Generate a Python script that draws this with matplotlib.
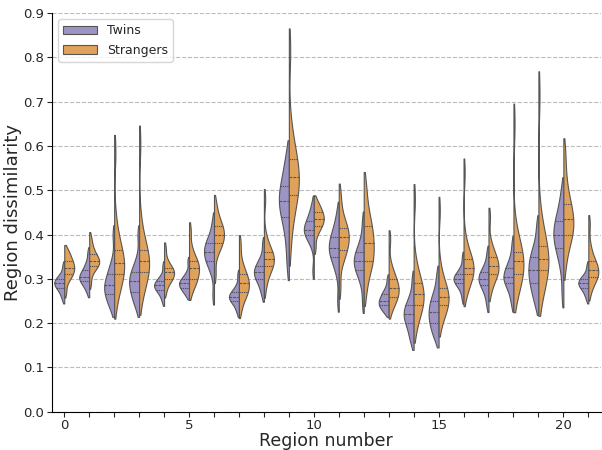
import matplotlib
matplotlib.use("Agg")
import matplotlib.pyplot as plt
import numpy as np
import pandas as pd
import seaborn as sns

regions = list(range(22))
groups = ["Twins", "Strangers"]

# per-region dissimilarity samples (13 values each)
twins = [
    [0.254, 0.266, 0.274, 0.28, 0.284, 0.287, 0.29, 0.293, 0.297, 0.30, 0.305, 0.312, 0.33],
    [0.27, 0.282, 0.29, 0.295, 0.299, 0.302, 0.305, 0.309, 0.314, 0.32, 0.328, 0.338, 0.36],
    [0.235, 0.245, 0.257, 0.265, 0.273, 0.279, 0.285, 0.292, 0.30, 0.31, 0.322, 0.34, 0.40],
    [0.235, 0.25, 0.262, 0.27, 0.279, 0.287, 0.295, 0.302, 0.308, 0.315, 0.327, 0.345, 0.40],
    [0.249, 0.262, 0.27, 0.275, 0.279, 0.282, 0.285, 0.288, 0.291, 0.295, 0.30, 0.308, 0.33],
    [0.263, 0.27, 0.276, 0.28, 0.284, 0.287, 0.29, 0.293, 0.296, 0.30, 0.306, 0.315, 0.34],
    [0.262, 0.315, 0.33, 0.34, 0.347, 0.354, 0.36, 0.366, 0.373, 0.38, 0.388, 0.40, 0.43],
    [0.224, 0.237, 0.245, 0.25, 0.254, 0.257, 0.26, 0.263, 0.266, 0.27, 0.276, 0.286, 0.31],
    [0.263, 0.28, 0.292, 0.30, 0.305, 0.31, 0.315, 0.32, 0.325, 0.33, 0.338, 0.35, 0.38],
    [0.33, 0.38, 0.415, 0.44, 0.452, 0.464, 0.475, 0.487, 0.498, 0.51, 0.528, 0.55, 0.58],
    [0.318, 0.375, 0.39, 0.40, 0.403, 0.407, 0.41, 0.416, 0.423, 0.43, 0.438, 0.45, 0.47],
    [0.25, 0.315, 0.335, 0.35, 0.357, 0.363, 0.37, 0.378, 0.386, 0.395, 0.407, 0.42, 0.45],
    [0.245, 0.29, 0.308, 0.32, 0.327, 0.333, 0.34, 0.347, 0.353, 0.36, 0.372, 0.39, 0.43],
    [0.224, 0.229, 0.235, 0.24, 0.243, 0.247, 0.25, 0.255, 0.26, 0.265, 0.271, 0.28, 0.30],
    [0.158, 0.172, 0.188, 0.20, 0.207, 0.213, 0.22, 0.227, 0.233, 0.24, 0.25, 0.265, 0.30],
    [0.165, 0.178, 0.19, 0.20, 0.208, 0.217, 0.225, 0.233, 0.242, 0.25, 0.262, 0.278, 0.31],
    [0.255, 0.274, 0.283, 0.29, 0.293, 0.297, 0.30, 0.303, 0.307, 0.31, 0.317, 0.327, 0.35],
    [0.24, 0.262, 0.275, 0.285, 0.29, 0.295, 0.30, 0.305, 0.31, 0.315, 0.323, 0.335, 0.36],
    [0.243, 0.265, 0.28, 0.29, 0.295, 0.30, 0.305, 0.312, 0.318, 0.325, 0.335, 0.35, 0.38],
    [0.242, 0.262, 0.278, 0.29, 0.30, 0.31, 0.32, 0.33, 0.34, 0.35, 0.362, 0.38, 0.42],
    [0.265, 0.325, 0.35, 0.37, 0.38, 0.39, 0.40, 0.41, 0.42, 0.43, 0.445, 0.465, 0.50],
    [0.254, 0.266, 0.274, 0.28, 0.284, 0.287, 0.29, 0.293, 0.297, 0.30, 0.305, 0.312, 0.33],
]
strangers = [
    [0.27, 0.295, 0.304, 0.31, 0.316, 0.32, 0.325, 0.33, 0.335, 0.34, 0.347, 0.357, 0.364],
    [0.29, 0.315, 0.324, 0.33, 0.334, 0.337, 0.34, 0.344, 0.349, 0.355, 0.363, 0.375, 0.393],
    [0.25, 0.285, 0.30, 0.31, 0.318, 0.327, 0.335, 0.344, 0.354, 0.365, 0.385, 0.43, 0.585],
    [0.26, 0.29, 0.305, 0.315, 0.323, 0.332, 0.34, 0.348, 0.356, 0.365, 0.385, 0.43, 0.605],
    [0.27, 0.289, 0.296, 0.30, 0.305, 0.31, 0.315, 0.318, 0.321, 0.325, 0.333, 0.345, 0.37],
    [0.27, 0.289, 0.296, 0.30, 0.31, 0.318, 0.325, 0.33, 0.335, 0.34, 0.352, 0.37, 0.41],
    [0.31, 0.358, 0.371, 0.38, 0.387, 0.394, 0.40, 0.407, 0.414, 0.42, 0.43, 0.445, 0.47],
    [0.23, 0.255, 0.264, 0.27, 0.277, 0.284, 0.29, 0.297, 0.303, 0.31, 0.322, 0.34, 0.38],
    [0.28, 0.31, 0.322, 0.33, 0.335, 0.34, 0.345, 0.35, 0.355, 0.36, 0.372, 0.395, 0.48],
    [0.38, 0.45, 0.473, 0.49, 0.503, 0.517, 0.53, 0.543, 0.556, 0.57, 0.595, 0.64, 0.815],
    [0.37, 0.40, 0.412, 0.42, 0.425, 0.43, 0.435, 0.44, 0.445, 0.45, 0.457, 0.466, 0.475],
    [0.28, 0.34, 0.355, 0.365, 0.375, 0.385, 0.395, 0.402, 0.408, 0.415, 0.428, 0.45, 0.49],
    [0.27, 0.315, 0.33, 0.34, 0.353, 0.367, 0.38, 0.393, 0.407, 0.42, 0.437, 0.465, 0.51],
    [0.23, 0.248, 0.255, 0.26, 0.267, 0.274, 0.28, 0.287, 0.293, 0.30, 0.312, 0.33, 0.39],
    [0.19, 0.222, 0.233, 0.24, 0.248, 0.257, 0.265, 0.273, 0.282, 0.29, 0.305, 0.335, 0.48],
    [0.20, 0.225, 0.234, 0.24, 0.247, 0.253, 0.26, 0.267, 0.273, 0.28, 0.295, 0.325, 0.455],
    [0.27, 0.296, 0.304, 0.31, 0.315, 0.32, 0.325, 0.332, 0.338, 0.345, 0.357, 0.385, 0.54],
    [0.27, 0.295, 0.304, 0.31, 0.317, 0.323, 0.33, 0.337, 0.343, 0.35, 0.362, 0.38, 0.44],
    [0.27, 0.293, 0.302, 0.31, 0.32, 0.33, 0.34, 0.347, 0.353, 0.36, 0.375, 0.41, 0.65],
    [0.27, 0.297, 0.31, 0.32, 0.328, 0.337, 0.345, 0.355, 0.365, 0.375, 0.395, 0.44, 0.715],
    [0.33, 0.375, 0.39, 0.40, 0.412, 0.423, 0.435, 0.447, 0.458, 0.47, 0.495, 0.53, 0.585],
    [0.27, 0.292, 0.30, 0.305, 0.31, 0.315, 0.32, 0.327, 0.333, 0.34, 0.352, 0.375, 0.425],
]

rows = []
for r in regions:
    for v in twins[r]:
        rows.append((r, "Twins", v))
    for v in strangers[r]:
        rows.append((r, "Strangers", v))
df = pd.DataFrame(rows, columns=["region", "group", "dissimilarity"])

sns.set_style("ticks")
plt.rcParams["font.family"] = ["DejaVu Sans"]

fig = plt.figure(figsize=(6.02, 4.5), dpi=100)
ax = fig.add_axes([0.086, 0.085, 0.912, 0.886])

palette = {"Twins": "#9d94c4", "Strangers": "#e0a25a"}
sns.violinplot(data=df, x="region", y="dissimilarity", hue="group",
               hue_order=groups, split=True, inner="quart", cut=1,
               bw_adjust=0.8, palette=palette, saturation=1, linewidth=0.8,
               linecolor="#555555", density_norm="width", width=0.8, ax=ax)

ax.yaxis.grid(True, linestyle="--", color="#bbbbbb", linewidth=0.8)
ax.set_axisbelow(True)
ax.set_ylim(0, 0.9)
ax.set_xlim(-0.5, 21.5)
ax.set_xticks(range(22))
ax.set_xticklabels([str(r) if r % 5 == 0 else "" for r in regions])
ax.set_yticks(np.arange(0, 0.91, 0.1))
ax.set_xlabel("Region number", fontsize=12.5, labelpad=0)
ax.set_ylabel("Region dissimilarity", fontsize=13, labelpad=1)
ax.tick_params(labelsize=9.5, pad=2)
for s in ["left", "bottom"]:
    ax.spines[s].set_color("black")
sns.despine(ax=ax)
ax.legend(loc="upper left", fontsize=9, title=None, handlelength=2.7)

fig.savefig("out.png", dpi=100)
